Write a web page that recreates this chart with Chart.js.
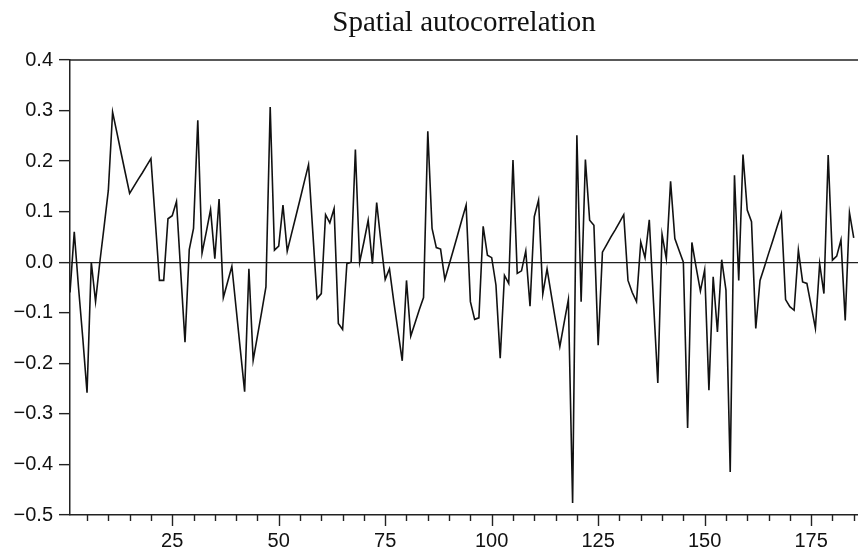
<!DOCTYPE html>
<html><head><meta charset="utf-8">
<script src="https://cdn.jsdelivr.net/npm/chart.js@4.4.0/dist/chart.umd.min.js"></script>
<style>html,body{margin:0;padding:0;background:#fff;}</style>
</head><body>
<canvas id="c" width="858" height="551"></canvas>
<script>
const chartTitle = 'Spatial autocorrelation';
const values = [
 -0.06, 0.06, -0.05, -0.15, -0.258, 0.0, -0.078, 0.0, 0.07, 0.142,
 0.297, 0.257, 0.216, 0.176, 0.136, 0.150, 0.164, 0.177, 0.191, 0.205,
 0.085, -0.036, -0.036, 0.086, 0.092, 0.12, -0.02, -0.158, 0.025, 0.067,
 0.281, 0.018, 0.06, 0.104, 0.007, 0.125, -0.07, -0.039, -0.008, -0.091,
 -0.174, -0.256, -0.013, -0.194, -0.146, -0.098, -0.049, 0.307, 0.024, 0.032,
 0.113, 0.022, 0.056, 0.090, 0.124, 0.159, 0.193, 0.06, -0.072, -0.062,
 0.094, 0.078, 0.106, -0.121, -0.133, -0.003, 0.0, 0.223, 0.0, 0.04,
 0.083, -0.003, 0.118, 0.04, -0.034, -0.013, -0.077, -0.136, -0.195, -0.036,
 -0.146, -0.12, -0.094, -0.07, 0.259, 0.067, 0.029, 0.026, -0.034, -0.005,
 0.024, 0.054, 0.084, 0.113, -0.078, -0.113, -0.11, 0.071, 0.014, 0.009,
 -0.045, -0.19, -0.026, -0.042, 0.202, -0.022, -0.017, 0.022, -0.087, 0.09,
 0.123, -0.063, -0.013, -0.065, -0.116, -0.167, -0.12, -0.074, -0.476, 0.251,
 -0.078, 0.203, 0.083, 0.073, -0.164, 0.02, 0.035, 0.05, 0.064, 0.079,
 0.094, -0.036, -0.06, -0.078, 0.04, 0.009, 0.084, -0.08, -0.239, 0.055,
 0.007, 0.16, 0.047, 0.023, 0.0, -0.328, 0.039, -0.01, -0.057, -0.015,
 -0.253, -0.029, -0.138, 0.005, -0.055, -0.415, 0.172, -0.036, 0.213, 0.103,
 0.08, -0.131, -0.036, -0.01, 0.017, 0.043, 0.07, 0.096, -0.074, -0.088,
 -0.095, 0.024, -0.039, -0.042, -0.086, -0.131, -0.003, -0.062, 0.212, 0.004,
 0.012, 0.044, -0.115, 0.098, 0.048
];
const xTickValues = [25, 50, 75, 100, 125, 150, 175];
const xMinorTickValues = [5,10,15,20,30,35,40,45,55,60,65,70,80,85,90,95,105,110,115,120,130,135,140,145,155,160,165,170,180,185];
const yTickValues = [0.4, 0.3, 0.2, 0.1, 0.0, -0.1, -0.2, -0.3, -0.4, -0.5];

const points = values.map((v, i) => ({ x: i + 1, y: v }));

const axisDecor = {
  id: 'axisDecor',
  afterDraw(chart) {
    const ctx = chart.ctx, xs = chart.scales.x, a = chart.chartArea;
    ctx.save();
    ctx.strokeStyle = '#222';
    ctx.lineWidth = 1.4;
    const drawTick = (v, len) => {
      const px = Math.round(xs.getPixelForValue(v)) + 0.5;
      ctx.beginPath(); ctx.moveTo(px, a.bottom); ctx.lineTo(px, a.bottom + len); ctx.stroke();
    };
    xMinorTickValues.forEach(v => drawTick(v, 6));
    xTickValues.forEach(v => drawTick(v, 11));
    ctx.lineWidth = 1.5;
    ctx.beginPath(); ctx.moveTo(a.left, a.top); ctx.lineTo(a.right, a.top); ctx.stroke();
    ctx.restore();
  }
};

new Chart(document.getElementById('c'), {
  type: 'line',
  data: {
    datasets: [{
      data: points,
      borderColor: '#111',
      borderWidth: 1.6,
      pointRadius: 0,
      tension: 0,
      fill: false
    }]
  },
  options: {
    responsive: false,
    animation: false,
    layout: { padding: { top: 0, left: 0, right: 0, bottom: 0 } },
    plugins: {
      legend: { display: false },
      tooltip: { enabled: false },
      title: {
        display: true,
        text: chartTitle,
        fullSize: false,
        color: '#111',
        font: { family: 'Liberation Serif', size: 29, weight: 'normal' },
        padding: { top: 5.8, bottom: 19.4 }
      }
    },
    scales: {
      x: {
        type: 'linear',
        min: 1,
        max: 186,
        afterBuildTicks: s => { s.ticks = xTickValues.map(v => ({ value: v })); },
        afterFit: s => { s.height = 36; },
        ticks: {
          autoSkip: false,
          maxRotation: 0,
          color: '#111',
          padding: 14,
          font: { family: 'Liberation Sans', size: 20 }
        },
        grid: { display: false, drawTicks: false },
        border: { display: true, color: '#222', width: 1.5 }
      },
      y: {
        min: -0.5,
        max: 0.4,
        afterBuildTicks: s => { s.ticks = yTickValues.map(v => ({ value: v })); },
        afterFit: s => { s.width = 70; },
        ticks: {
          color: '#111',
          padding: 6,
          font: { family: 'Liberation Sans', size: 20 },
          callback: v => { const r = Math.round(v * 10) / 10; return (r < 0 ? '\u2212' : '') + Math.abs(r).toFixed(1); }
        },
        grid: {
          drawTicks: true,
          tickLength: 11,
          tickColor: '#222',
          tickWidth: 1.4,
          lineWidth: 1.3,
          color: c => (c.tick && Math.abs(c.tick.value) < 1e-9) ? '#222' : 'rgba(0,0,0,0)'
        },
        border: { display: true, color: '#222', width: 1.5 }
      }
    }
  },
  plugins: [axisDecor]
});
</script>
</body></html>
